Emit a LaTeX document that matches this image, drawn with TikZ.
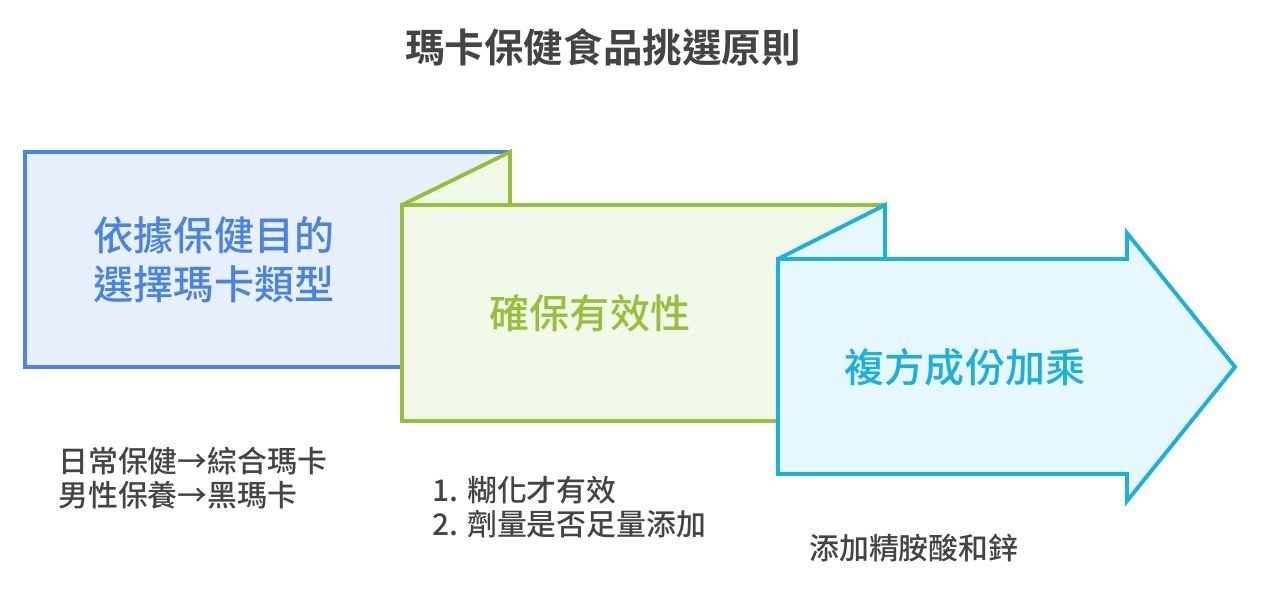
\documentclass[tikz,border=0pt]{standalone}
\usepackage{fontspec}
\setmainfont{Noto Sans CJK TC}
\newfontfamily\cjkbold{Noto Sans CJK TC Bold}
\newfontfamily\cjkmedium{Noto Sans CJK TC Medium}
\usetikzlibrary{positioning}
\definecolor{bluestroke}{RGB}{72,132,228}
\definecolor{bluefill}{RGB}{232,240,253}
\definecolor{greenstroke}{RGB}{151,192,58}
\definecolor{greenfill}{RGB}{243,249,233}
\definecolor{cyanstroke}{RGB}{26,176,226}
\definecolor{cyanfill}{RGB}{230,247,253}
\definecolor{textgray}{RGB}{68,68,68}
\begin{document}
\begin{tikzpicture}[
  x=0.02cm, y={(0cm,-0.02cm)},
  panel/.style={line width=2.2pt, line join=miter},
  head/.style={font=\cjkmedium\fontsize{22.8pt}{28pt}\selectfont, align=center, inner sep=0pt},
  note/.style={font=\cjkmedium\fontsize{17pt}{19.4pt}\selectfont, text=textgray, align=left,
               inner sep=0pt, anchor=north west},
  ttl/.style={font=\cjkbold\fontsize{22.5pt}{27pt}\selectfont, text=textgray, inner sep=0pt}
]
\useasboundingbox (0,0) rectangle (1261,601);

% ---------- title ----------
\node[ttl] (title) at (603,47) {瑪卡保健食品挑選原則};

% ---------- panels ----------
\draw[panel, draw=bluestroke, fill=bluefill] (25,152) rectangle (510,367);
\draw[panel, draw=greenstroke, fill=greenfill] (402,205) -- (510,152) -- (510,205);
\draw[panel, draw=greenstroke, fill=greenfill] (402,205) rectangle (885,421);
\draw[panel, draw=cyanstroke, fill=cyanfill] (778,259) -- (885,205) -- (885,259);
\draw[panel, draw=cyanstroke, fill=cyanfill] (778,259) -- (1127,259) -- (1127,233)
  -- (1235,367) -- (1127,501) -- (1127,474) -- (778,474) -- cycle;

\node[head, text=bluestroke] (purpose) at (214,260) {依據保健目的\\選擇瑪卡類型};
\node[head, text=greenstroke] (valid) at (590,313) {確保有效性};
\node[head, text=cyanstroke] (compound) at (965,367) {複方成份加乘};

% ---------- notes ----------
\node[note] (purposenote) at (58,447) {日常保健→綜合瑪卡\\男性保養→黑瑪卡};
\node[note] (validnote) at (432,476) {1. 糊化才有效\\2. 劑量是否足量添加};
\node[note] (compoundnote) at (809,534) {添加精胺酸和鋅};

\end{tikzpicture}
\end{document}
